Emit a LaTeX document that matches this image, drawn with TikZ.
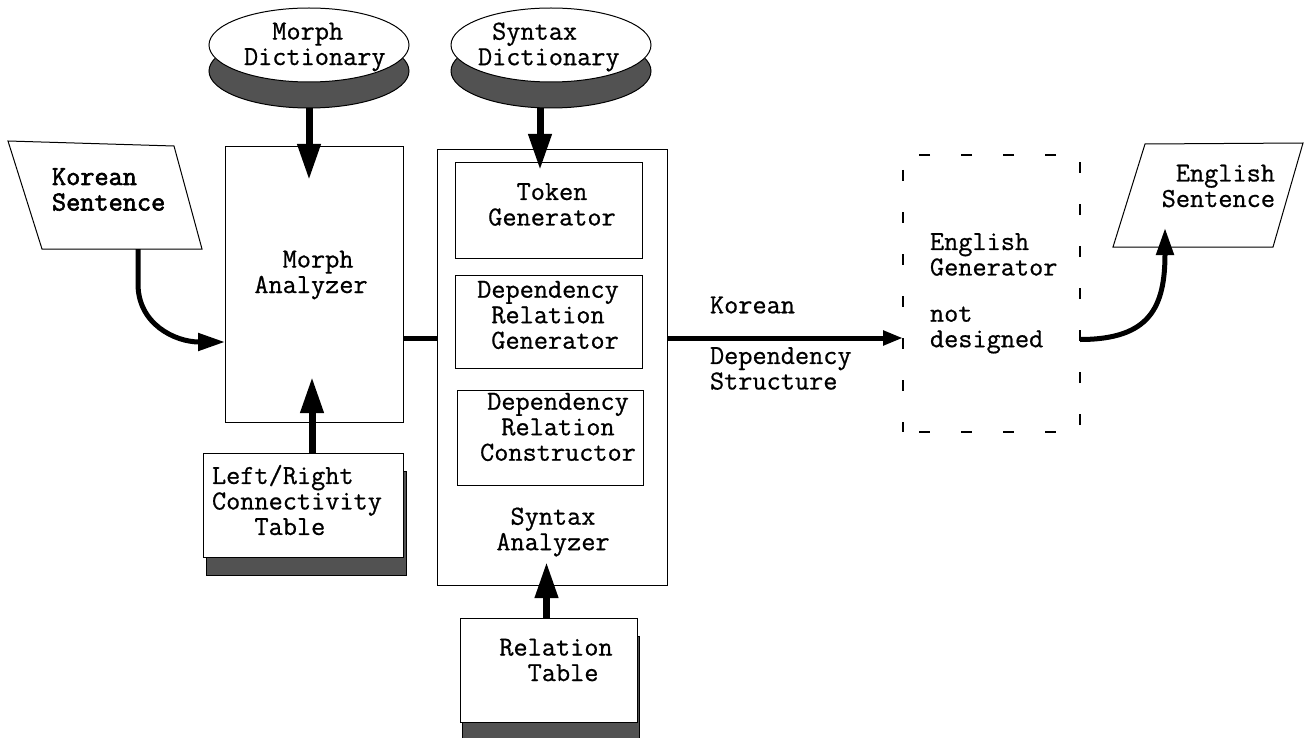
\documentclass[tikz,border=0pt]{standalone}
\usepackage{fontspec}
\newfontfamily\ctt{Latin Modern Mono}[FakeBold=0.7]
\newfontfamily\cttb{Latin Modern Mono}[FakeBold=2.2]
\usetikzlibrary{arrows.meta,shapes.geometric}
\begin{document}
\begin{tikzpicture}[x=1pt,y=-1pt,
  every node/.style={font=\fontsize{27.5}{25.5}\selectfont\ctt, inner sep=0pt, outer sep=0pt},
  box/.style={draw, line width=1pt, fill=white},
  shadowfill/.style={draw, line width=1pt, fill=black!68},
  dict/.style={ellipse, minimum width=200pt, minimum height=74pt},
  bigarrow/.style={line width=7pt, -{Triangle[length=36pt,width=22pt]}},
  flowarrow/.style={line width=5pt, -{Triangle[length=27pt,width=17pt]}},
  link/.style={line width=5pt},
  txt/.style={align=center},
  ltxt/.style={align=left, anchor=west},
]
\useasboundingbox (0,0) rectangle (1305,738);

% dictionaries
\node[dict, shadowfill] (mdsh) at (309,71) {};
\node[dict, box] (mdict) at (309,45) {};
\node[ltxt] (mdtxt) at (244,47) {\hphantom{xx}Morph\\Dictionary};

\node[dict, shadowfill] (sdsh) at (551,71) {};
\node[dict, box] (sdict) at (551,45) {};
\node[ltxt] (sdtxt) at (478,47) {\hphantom{x}Syntax\\Dictionary};

% Korean sentence
\coordinate (ks1) at (8,141);
\coordinate (ks2) at (174,146);
\coordinate (ks3) at (202,249);
\coordinate (ks4) at (42,249);
\coordinate (ksb) at (138,249);
\draw[line width=1pt, fill=white] (ks1) -- (ks2) -- (ks3) -- (ks4) -- cycle;
\node[ltxt, font=\fontsize{27.5}{25.5}\selectfont\cttb] (kstxt) at (52,189.5) {Korean\\Sentence};

% Morph analyzer
\node[box, minimum width=178pt, minimum height=275pt] (manal) at (314,284.5) {};
\node[txt] (matxt) at (311,275) {\hphantom{x}Morph\\Analyzer};

% Syntax analyzer
\node[box, minimum width=230pt, minimum height=435pt] (sanal) at (552,367.5) {};
\node[box, minimum width=187pt, minimum height=95pt] (tgen) at (548.5,210.5) {};
\node[txt] (tgtxt) at (552,204.5) {Token\\Generator};
\node[box, minimum width=187pt, minimum height=93pt] (drg) at (548.5,321.5) {};
\node[txt] (drgtxt) at (548,315) {Dependency\\Relation\\\hphantom{x}Generator};
\node[box, minimum width=186pt, minimum height=95pt] (drc) at (550,437.5) {};
\node[txt] (drctxt) at (558,427) {Dependency\\Relation\\Constructor};
\node[txt] (satxt) at (553,532) {Syntax\\Analyzer};

% Left/Right table
\node[shadowfill, minimum width=200pt, minimum height=104pt] (lrsh) at (306,523) {};
\node[box, minimum width=200pt, minimum height=104pt] (lrt) at (303,505) {};
\node[ltxt] (lrtxt) at (212,500) {Left/Right\\Connectivity\\\hphantom{xxx}Table};

% Relation table
\node[shadowfill, minimum width=177pt, minimum height=104pt] (rtsh) at (550.5,688) {};
\node[box, minimum width=177pt, minimum height=104pt] (rtab) at (548.5,670) {};
\node[txt] (rttxt) at (556,660) {Relation\\\hphantom{x}Table};

% English generator
\node[draw, line width=1.2pt, dash pattern=on 11pt off 31pt, dash phase=-16pt, minimum width=177pt, minimum height=277pt] (egen) at (991.5,293.5) {};
\node[ltxt] (egtxt) at (930,254.5) {English\\Generator};
\node[ltxt] (ndtxt) at (930,330) {not\\designed};

% English sentence
\coordinate (es1) at (1145,144);
\coordinate (es2) at (1303,143);
\coordinate (es3) at (1273,247);
\coordinate (es4) at (1113,247);
\coordinate (esb) at (1165,247);
\draw[line width=1pt, fill=white] (es1) -- (es2) -- (es3) -- (es4) -- cycle;
\node[align=right, anchor=east] (estxt) at (1275,186) {English\\Sentence};

% labels
\node[ltxt] (kor) at (710,305) {Korean};
\node[ltxt] (dstxt) at (710,368.5) {Dependency\\Structure};

% connectors
\draw[bigarrow, shorten >=-33pt] (mdsh.south) -- (mdsh.south |- manal.north);
\draw[bigarrow, shorten >=-7pt] ([xshift=-11pt]sdsh.south) -- ([xshift=-11pt]sdsh.south |- tgen.north);
\draw[bigarrow, shorten >=-45pt] ([xshift=9pt]lrt.north) -- ([xshift=9pt]lrt.north |- manal.south);
\draw[bigarrow, shorten >=-23pt] ([xshift=-2pt]rtab.north) -- ([xshift=-2pt]rtab.north |- sanal.south);
\draw[link] ([yshift=-54pt]manal.east) -- ([yshift=-54pt]manal.east -| sanal.west);
\draw[flowarrow, -{Triangle[length=20pt,width=14pt]}] ([yshift=29.5pt]sanal.east) -- ([yshift=29.5pt]sanal.east -| egen.west);
\draw[flowarrow] (ksb) -- ++(0,35) .. controls +(0,40) and +(-50,0) .. ([yshift=-57.5pt]manal.west);
\draw[flowarrow, shorten >=-19pt] ([yshift=-46pt]egen.east) .. controls +(70,0) and +(0,60) .. (esb);
\end{tikzpicture}
\end{document}
